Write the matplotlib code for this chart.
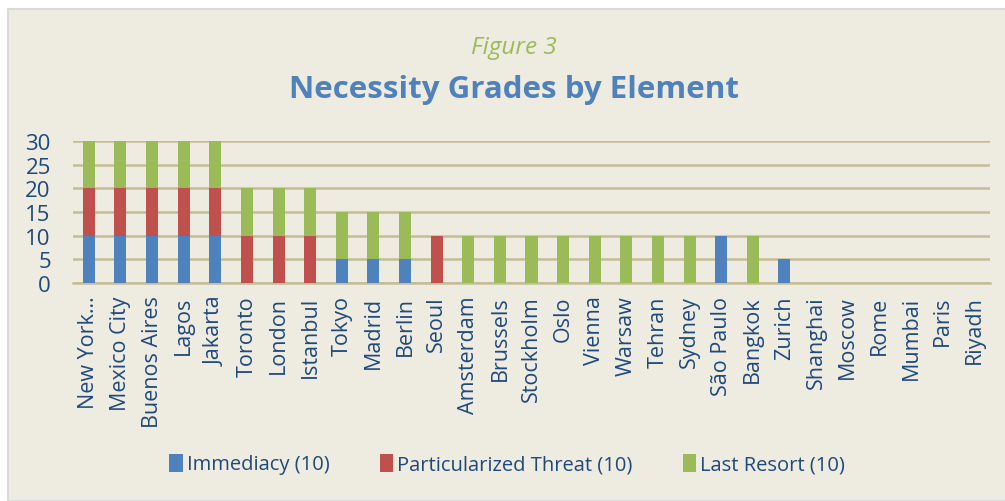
import numpy as np
import matplotlib.pyplot as plt
from matplotlib.patches import Rectangle

cities = ['New York…', 'Mexico City', 'Buenos Aires', 'Lagos', 'Jakarta',
          'Toronto', 'London', 'Istanbul', 'Tokyo', 'Madrid', 'Berlin',
          'Seoul', 'Amsterdam', 'Brussels', 'Stockholm', 'Oslo', 'Vienna',
          'Warsaw', 'Tehran', 'Sydney', 'São Paulo', 'Bangkok', 'Zurich',
          'Shanghai', 'Moscow', 'Rome', 'Mumbai', 'Paris', 'Riyadh']
immediacy = [10, 10, 10, 10, 10, 0, 0, 0, 5, 5, 5, 0, 0, 0, 0, 0, 0,
             0, 0, 0, 10, 0, 5, 0, 0, 0, 0, 0, 0]
threat = [10, 10, 10, 10, 10, 10, 10, 10, 0, 0, 0, 10, 0, 0, 0, 0, 0,
          0, 0, 0, 0, 0, 0, 0, 0, 0, 0, 0, 0]
last_resort = [10, 10, 10, 10, 10, 10, 10, 10, 10, 10, 10, 0, 10, 10, 10,
               10, 10, 10, 10, 10, 0, 10, 0, 0, 0, 0, 0, 0, 0]
yticks = [0, 5, 10, 15, 20, 25, 30]

bg = '#EEEBE0'
grid_col = '#C4BD97'
text_col = '#1F497D'

plt.rcParams['font.family'] = ['Open Sans', 'DejaVu Sans']

fig = plt.figure(figsize=(10.05, 5.02), dpi=100, facecolor=bg)
# white margin on top and left, like the pasted chart frame
fig.patches.append(Rectangle((0, 0), 1, 1, transform=fig.transFigure,
                             facecolor='white', edgecolor='none', zorder=-3))
fig.patches.append(Rectangle((8 / 1005, 0), 1, 1 - 10 / 502,
                             transform=fig.transFigure, facecolor=bg,
                             edgecolor='#D9D9D9', linewidth=1.5, zorder=-2))

ax = fig.add_axes([73 / 1005, 1 - 284 / 502, 917 / 1005, 142 / 502])
ax.set_facecolor(bg)

x = np.arange(len(cities))
imm = np.array(immediacy)
thr = np.array(threat)
lr = np.array(last_resort)
w = 0.38
ax.bar(x, imm, w, color='#4F81BD', label='Immediacy (10)', zorder=3)
ax.bar(x, thr, w, bottom=imm, color='#C0504D',
       label='Particularized Threat (10)', zorder=3)
ax.bar(x, lr, w, bottom=imm + thr, color='#9BBB59',
       label='Last Resort (10)', zorder=3)

ax.set_xlim(-0.5, len(cities) - 0.5)
ax.set_ylim(0, 30)
ax.set_yticks(yticks)
ax.yaxis.grid(True, color=grid_col, linewidth=1.8, zorder=0)
ax.set_axisbelow(True)
for s in ['top', 'right', 'left']:
    ax.spines[s].set_visible(False)
ax.spines['bottom'].set_color(grid_col)
ax.spines['bottom'].set_linewidth(1.8)
ax.set_xticks(x)
ax.set_xticklabels(cities, rotation=90, fontsize=15.5, color=text_col)
ax.tick_params(axis='x', length=0, pad=9)
ax.tick_params(axis='y', length=0, labelsize=16, labelcolor=text_col, pad=16)

fig.text(514 / 1005, 1 - 48 / 502, 'Figure 3', ha='center', va='center',
         fontsize=17.5, style='italic', color='#9BBB59')
fig.text(514 / 1005, 1 - 90 / 502, 'Necessity Grades by Element',
         ha='center', va='center', fontsize=22.5, fontweight='bold',
         color='#4F81BD')

leg = fig.legend(loc='center', bbox_to_anchor=(507 / 1005, 1 - 465 / 502),
                 ncol=3, frameon=False, fontsize=14.5, handlelength=0.65,
                 handleheight=1.0, handletextpad=0.2, columnspacing=2.5)
for t in leg.get_texts():
    t.set_color(text_col)

fig.savefig('out.png', dpi=100, facecolor=fig.get_facecolor())
